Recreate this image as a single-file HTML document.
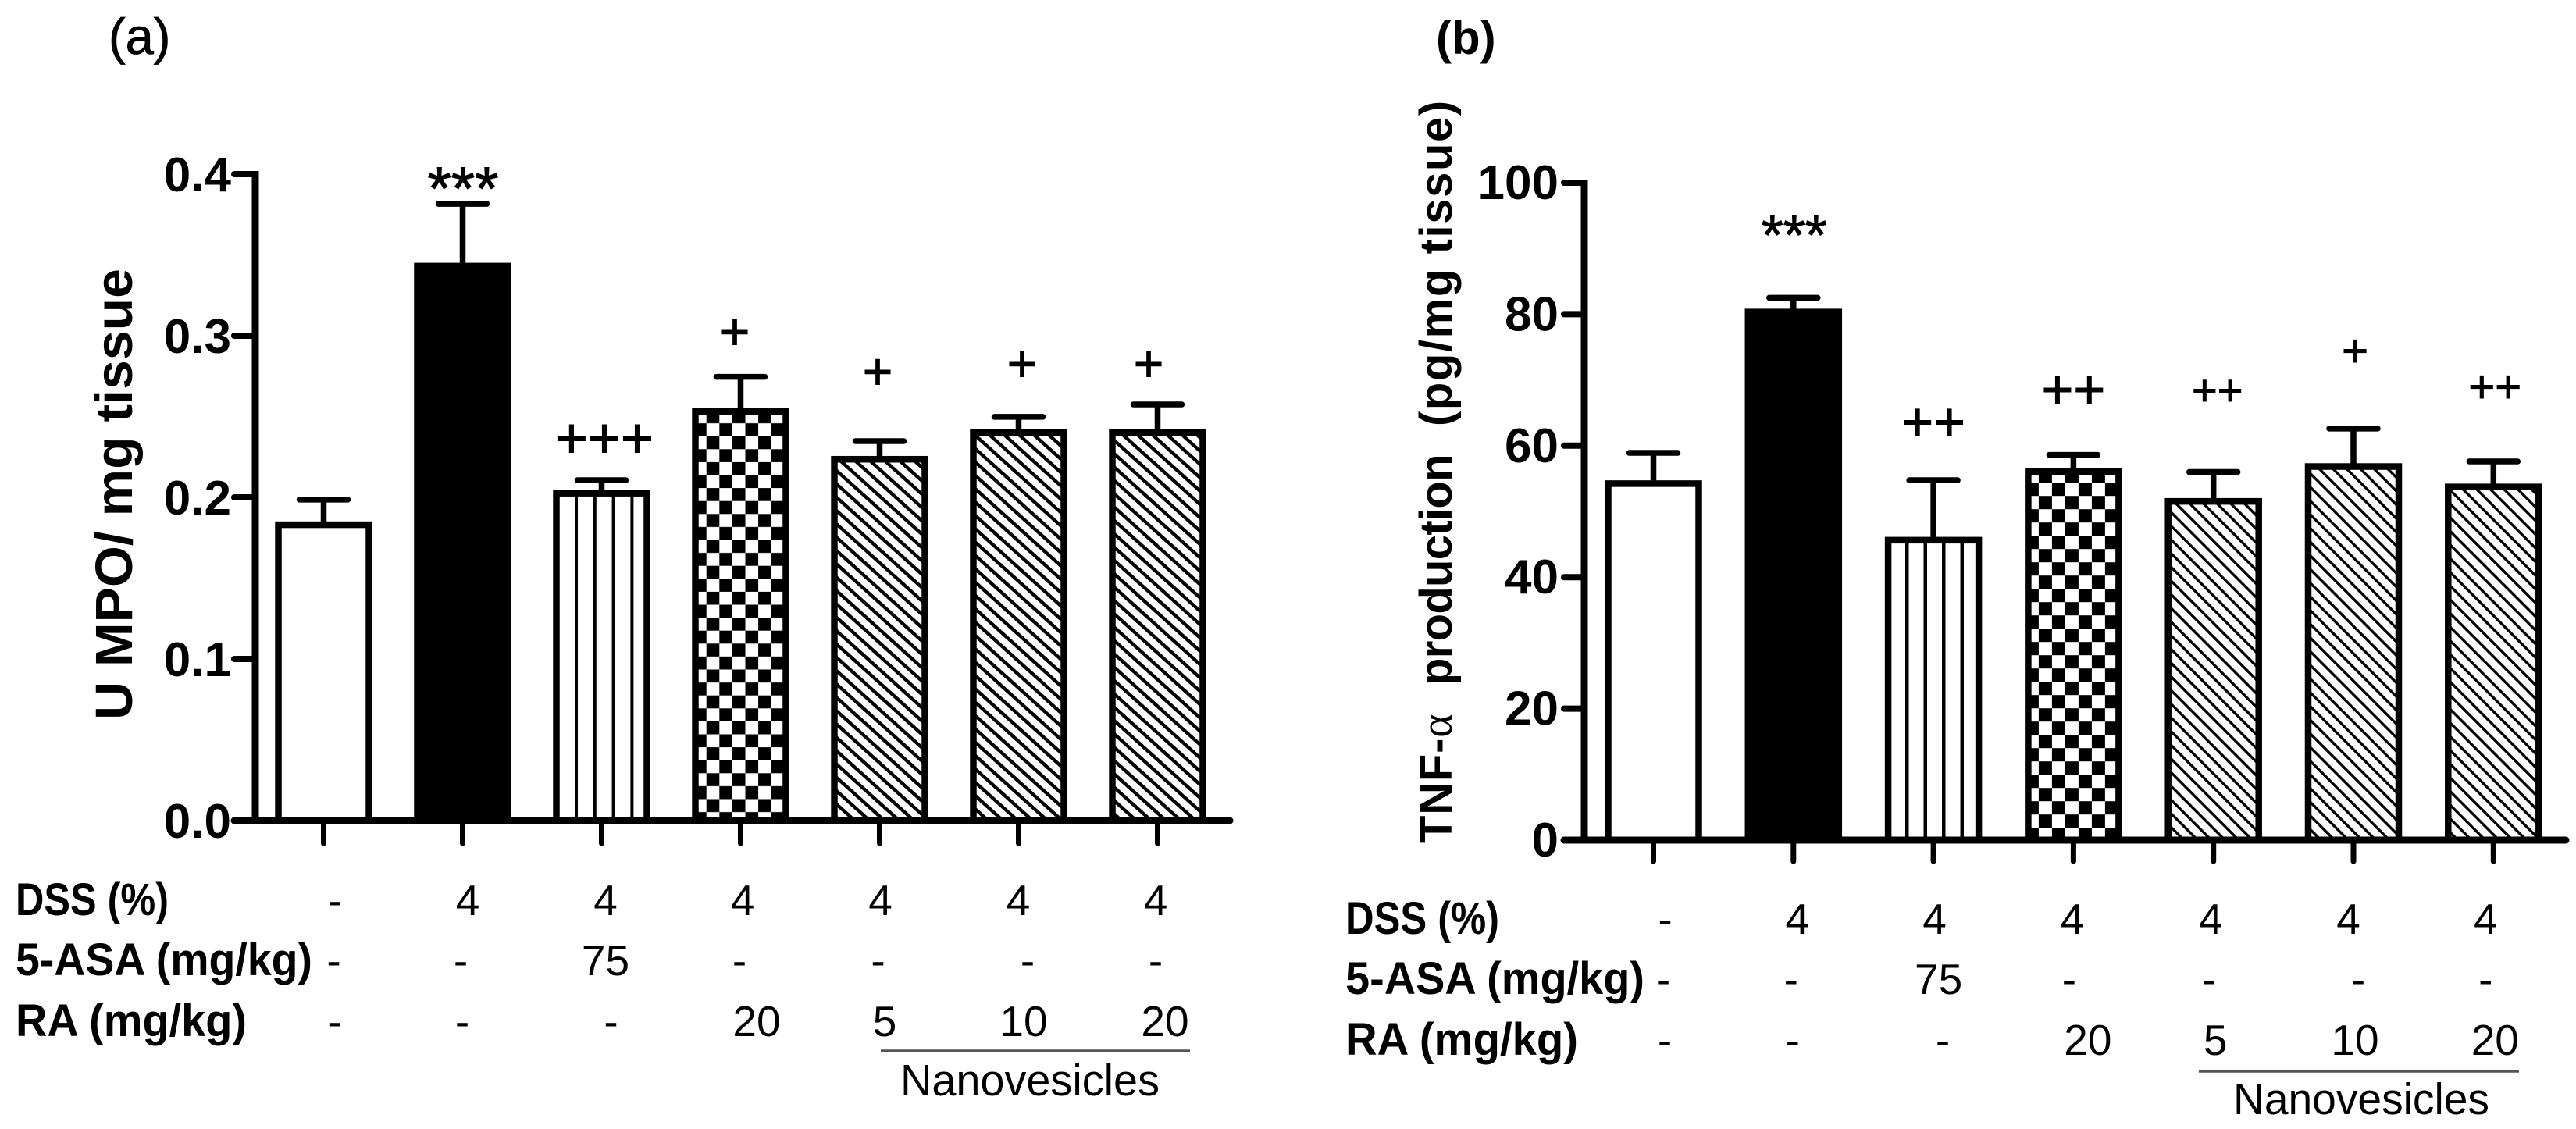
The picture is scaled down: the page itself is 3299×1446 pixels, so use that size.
<!DOCTYPE html>
<html lang="en">
<head>
<meta charset="utf-8">
<title>MPO and TNF-alpha bar charts</title>
<style>
  html, body { margin: 0; padding: 0; background: #fff; }
  svg { display: block; font-family: "Liberation Sans", Arial, sans-serif; }
</style>
</head>
<body>
<svg id="figure" xmlns="http://www.w3.org/2000/svg" width="3299" height="1446" viewBox="0 0 3299 1446">
  <rect x="0" y="0" width="3299" height="1446" fill="#fff"/>
  <defs>
    <pattern id="vertical-a" patternUnits="userSpaceOnUse" x="736" y="0" width="23.8" height="40"><rect x="0" y="0" width="4" height="40" fill="#000"/></pattern>
    <pattern id="vertical-b" patternUnits="userSpaceOnUse" x="2440" y="0" width="23.5" height="40"><rect x="0" y="0" width="4.5" height="40" fill="#000"/></pattern>
    <pattern id="checker-a" patternUnits="userSpaceOnUse" x="904.7" y="558.7" width="33.2" height="33.2"><rect x="0" y="0" width="16.6" height="16.6" fill="#000"/><rect x="16.6" y="16.6" width="16.6" height="16.6" fill="#000"/></pattern>
    <pattern id="checker-b" patternUnits="userSpaceOnUse" x="2610.9" y="635.2" width="34" height="34"><rect x="0" y="0" width="17" height="17" fill="#000"/><rect x="17" y="17" width="17" height="17" fill="#000"/></pattern>
    <pattern id="hatch-a" patternUnits="userSpaceOnUse" width="12.7" height="12.7" patternTransform="rotate(-48)"><rect x="0" y="0" width="4.4" height="12.7" fill="#000"/></pattern>
    <pattern id="hatch-b" patternUnits="userSpaceOnUse" width="12.4" height="12.4" patternTransform="rotate(-45)"><rect x="0" y="0" width="3.4" height="12.4" fill="#000"/></pattern>
  </defs>

  <text x="139" y="69" font-size="65" stroke="#000" stroke-width="0.8">(a)</text>
  <text x="1839" y="69" font-size="60" font-weight="bold">(b)</text>
  <text transform="translate(169 922) rotate(-90)" font-size="67" font-weight="bold" textLength="578" lengthAdjust="spacingAndGlyphs">U MPO/ mg tissue</text>
  <text transform="translate(1859 1080) rotate(-90)" font-size="58" font-weight="bold"><tspan x="0" letter-spacing="0.8">TNF-</tspan><tspan font-family="Liberation Serif, serif" font-weight="normal">α</tspan><tspan x="202" letter-spacing="-0.7">production</tspan><tspan x="534" letter-spacing="1.6">(pg/mg tissue)</tspan></text>
</svg>

<script>
// ---- data ----
const categories = ['control', 'dss', 'asa', 'ra-free', 'nano-5', 'nano-10', 'nano-20'];
const barFills = ['white', 'solid', 'vertical', 'checker', 'hatch', 'hatch', 'hatch'];

const mpoValues = [0.185, 0.345, 0.2045, 0.255, 0.2255, 0.242, 0.242];
const mpoErrors = [0.0136, 0.0366, 0.0061, 0.0196, 0.0093, 0.0078, 0.0155];
const mpoTicks = [0, 0.1, 0.2, 0.3, 0.4];
const mpoTickLabels = ['0.0', '0.1', '0.2', '0.3', '0.4'];
const mpoMarks = ['', '***', '+++', '+', '+', '+', '+'];

const tnfValues = [54.7, 80.8, 46.1, 56.5, 52.0, 57.3, 54.2];
const tnfErrors = [4.2, 1.7, 8.65, 2.1, 4.0, 5.3, 3.4];
const tnfTicks = [0, 20, 40, 60, 80, 100];
const tnfTickLabels = ['0', '20', '40', '60', '80', '100'];
const tnfMarks = ['', '***', '++', '++', '++', '+', '++'];

const rowHeaders = ['DSS (%)', '5-ASA (mg/kg)', 'RA (mg/kg)'];
const rowDss = ['-', '4', '4', '4', '4', '4', '4'];
const rowAsa = ['-', '-', '75', '-', '-', '-', '-'];
const rowRa = ['-', '-', '-', '20', '5', '10', '20'];
const groupLabel = 'Nanovesicles';

// ---- layout (pixels, not data) ----
const panelA = {
  key: 'a', values: mpoValues, errors: mpoErrors, ticks: mpoTicks, tickLabels: mpoTickLabels, marks: mpoMarks,
  x0: 414.5, step: 178, barW: 124, y0: 1051, perUnit: 2070, axisX: 327, axisLeft: 300, axisRight: 1575,
  tickLabelRight: 296, tickBottom: 1080, tickSize: 62, tickShift: 22,
  markLift: [0, 38, 54, 57.6, 89, 68, 52], markNudge: [0, 0.5, 3.5, -7.5, -2.5, 4.5, -11.5], markSize: [0, 78, 72, 66, 66, 66, 66],
  headerX: 20, headerW: [196, 380, 296], rowBase: [1172, 1249, 1327],
  rowNudge: [[14.5, 6.5, 5, 2.5, 1, -0.5, -2.5], [13, -2.5, 5, -1.5, -2, 11.5, -2.5], [14, -0.5, 12, 20.5, 6.5, 6.5, 9.5]],
  lineX1: 1128, lineX2: 1524, lineY: 1346, groupX: 1153, groupBase: 1403, groupW: 332
};
const panelB = {
  key: 'b', values: tnfValues, errors: tnfErrors, ticks: tnfTicks, tickLabels: tnfTickLabels, marks: tnfMarks,
  x0: 2117.5, step: 179.3, barW: 124, y0: 1076, perUnit: 8.42, axisX: 2029, axisLeft: 2003, axisRight: 3286,
  tickLabelRight: 1996, tickBottom: 1103, tickSize: 62, tickShift: 21,
  markLift: [0, 97, 75, 84, 105, 100, 96], markNudge: [0, 1, 0, 0, 5, 2, 2], markSize: [0, 72, 70, 70, 56, 58, 58],
  headerX: 1723, headerW: [197, 383, 298], rowBase: [1196, 1273, 1351],
  rowNudge: [[15, 5, 1.5, -1.5, -3.5, -6.5, -10], [12.5, -3, 6.5, -5.5, -5.5, 6, -10], [14.5, -1, 12, 18.5, 2.5, 2, 2]],
  lineX1: 2816, lineX2: 3226, lineY: 1372, groupX: 2860, groupBase: 1427, groupW: 328
};

const svg = document.getElementById('figure');
const NS = 'http://www.w3.org/2000/svg';

function make(tag, attrs, text) {
  const el = document.createElementNS(NS, tag);
  for (const k in attrs) el.setAttribute(k, attrs[k]);
  if (text !== undefined) el.textContent = text;
  svg.appendChild(el);
  return el;
}

function drawPanel(p) {
  const xPos = i => p.x0 + p.step * i;
  const yPos = v => p.y0 - v * p.perUnit;
  const yMax = yPos(p.ticks[p.ticks.length - 1]);
  const fillFor = f => f === 'white' ? '#fff' : f === 'solid' ? '#000' : 'url(#' + f + '-' + p.key + ')';

  p.values.forEach((v, i) => {
    const cx = xPos(i);
    const top = yPos(v + p.errors[i]);
    const stem = make('line', { x1: cx, x2: cx, y1: top, y2: yPos(v), stroke: '#000', 'stroke-width': 7.5 });
    
    
    const cap = make('line', { x1: cx - 31, x2: cx + 31, y1: top, y2: top, stroke: '#000', 'stroke-width': 7.5, 'stroke-linecap': 'round' });
    
    
    const bar = make('rect', {
      x: cx - p.barW / 2 + 4, y: yPos(v) + 4, width: p.barW - 8, height: p.y0 - yPos(v) - 4,
      fill: fillFor(barFills[i]), stroke: '#000', 'stroke-width': 8.5
    });
    
    

    const tick = make('line', { x1: cx, x2: cx, y1: p.y0, y2: p.tickBottom, stroke: '#000', 'stroke-width': 7, 'stroke-linecap': 'round' });
    
    

    if (p.marks[i]) {
      const size = p.markSize[i];
      const centre = top - p.markLift[i];
      const isStar = p.marks[i].charAt(0) === '*';
      const mark = make('text', {
        x: cx + p.markNudge[i], y: centre + size * (isStar ? 0.575 : 0.345),
        'font-size': size, 'text-anchor': 'middle', stroke: '#000', 'stroke-width': 1
      }, p.marks[i]);
      
      
    }
  });

  p.ticks.forEach((t, i) => {
    const y = yPos(t);
    const tick = make('line', { x1: p.axisLeft, x2: p.axisX, y1: y, y2: y, stroke: '#000', 'stroke-width': 8, 'stroke-linecap': 'round' });
    
    
    const label = make('text', {
      x: p.tickLabelRight, y: y + p.tickShift, 'font-size': p.tickSize, 'font-weight': 'bold', 'text-anchor': 'end'
    }, p.tickLabels[i]);
    
    
  });

  const yAxis = make('line', { x1: p.axisX, x2: p.axisX, y1: yMax - 4, y2: p.y0, stroke: '#000', 'stroke-width': 9 });
  
  
  const xAxis = make('line', { x1: p.axisLeft, x2: p.axisRight, y1: p.y0, y2: p.y0, stroke: '#000', 'stroke-width': 9, 'stroke-linecap': 'round' });
  
  

  [rowDss, rowAsa, rowRa].forEach((row, r) => {
    const header = make('text', {
      x: p.headerX, y: p.rowBase[r], 'font-size': 58, 'font-weight': 'bold',
      textLength: p.headerW[r], lengthAdjust: 'spacingAndGlyphs'
    }, rowHeaders[r]);
    
    
    row.forEach((cell, i) => {
      const t = make('text', {
        x: xPos(i) + p.rowNudge[r][i], y: p.rowBase[r], 'font-size': 55, 'text-anchor': 'middle'
      }, cell);
      
      
    });
  });

  const rule = make('line', { x1: p.lineX1, x2: p.lineX2, y1: p.lineY, y2: p.lineY, stroke: '#555', 'stroke-width': 3.5 });
  
  
  const group = make('text', {
    x: p.groupX, y: p.groupBase, 'font-size': 57, textLength: p.groupW, lengthAdjust: 'spacingAndGlyphs'
  }, groupLabel);
  
  
}

drawPanel(panelA);
drawPanel(panelB);
</script>
</body>
</html>
